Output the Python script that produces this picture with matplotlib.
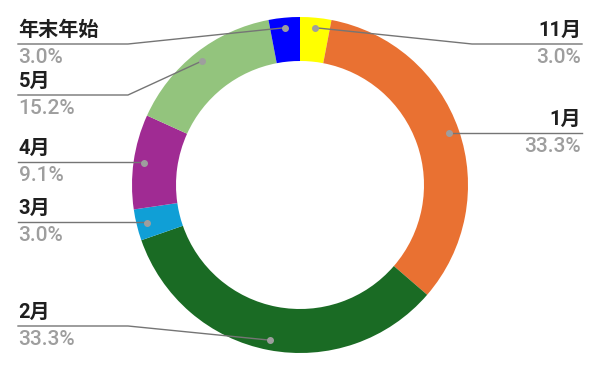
import numpy as np
import matplotlib
matplotlib.use("Agg")
import matplotlib.pyplot as plt

plt.rcParams['font.family'] = ['Roboto', 'Noto Sans CJK JP', 'DejaVu Sans']

# --- data (clockwise from 12 o'clock) ---
labels = ['11月', '1月', '2月', '3月', '4月', '5月', '年末年始']
values = [3.0, 33.3, 33.3, 3.0, 9.1, 15.2, 3.0]
colors = ['#FFFF00', '#E97132', '#1A6B24', '#109FD6', '#A02B93', '#93C47D', '#0000FF']

# --- layout (pixel coords, y from top) ---
W, H = 600, 371
cx, cy, R, ring = 300, 185, 168, 44
dot_r = 158
# y of the leader line under each label, and which side the label sits on
label_line_y = [44, 133, 326, 222, 162, 95, 44]
label_side = ['r', 'r', 'l', 'l', 'l', 'l', 'l']

fig = plt.figure(figsize=(W / 100, H / 100), dpi=100)
ax = fig.add_axes([0, 0, 1, 1])

# y inverted: ccw in data = cw on screen, -90 = top of screen
wedges, _ = ax.pie(values, colors=colors, startangle=-90, counterclock=True,
                   radius=R, center=(cx, cy), frame=True,
                   wedgeprops=dict(width=ring, linewidth=0))
ax.set_xlim(0, W)
ax.set_ylim(H, 0)
ax.set_aspect('equal')
ax.axis('off')

for w, lab, val, ly, side in zip(wedges, labels, values, label_line_y, label_side):
    th = np.deg2rad((w.theta1 + w.theta2) / 2)
    dx = cx + dot_r * np.cos(th)
    dy = cy + dot_r * np.sin(th)
    if side == 'l':
        x0, xe = 18, 128
        tx, ha = 18.5, 'left'
    else:
        x0, xe = 582, 472
        tx, ha = 581, 'right'
    if abs(dy - ly) < 3:
        ax.plot([x0, dx], [ly, ly], color='#757575', lw=1, zorder=3)
    else:
        ax.plot([x0, xe, dx], [ly, ly, dy], color='#757575', lw=1, zorder=3)
    ax.plot(dx, dy, 'o', color='#9E9E9E', ms=4, zorder=4)
    ax.text(tx, ly - 4, lab, ha=ha, va='bottom', fontsize=14.5,
            fontweight='bold', color='#1F1F1F')
    ax.text(tx, ly + 4, f'{val:.1f}%', ha=ha, va='top', fontsize=15,
            fontweight='medium', color='#9E9E9E')

fig.savefig('out.png', dpi=100)
